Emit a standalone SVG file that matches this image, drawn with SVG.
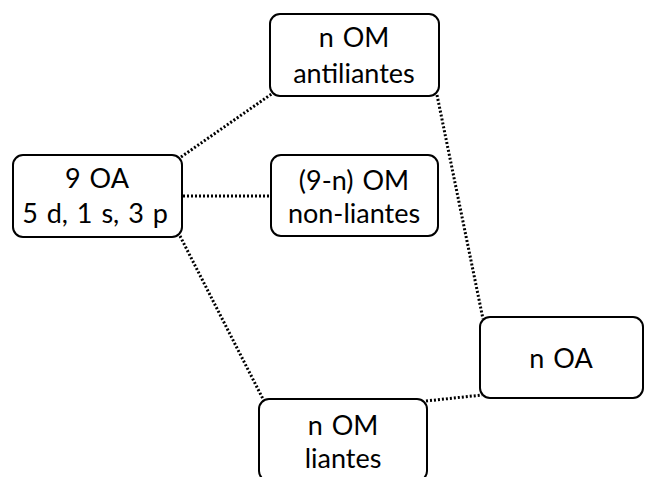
<svg xmlns="http://www.w3.org/2000/svg" width="645" height="477" viewBox="0 0 645 477">
<style>
.box{fill:#fff;stroke:#000;stroke-width:2}
.t{font-family:Lato,"Open Sans","DejaVu Sans",sans-serif;font-size:27px;text-anchor:middle;fill:#000;word-spacing:2px}
.c{stroke:#000;stroke-width:3;stroke-dasharray:2 2;fill:none}
</style>
<rect width="645" height="477" fill="#fff"/>
<g id="connectors">
<line class="c" x1="181" y1="157" x2="273" y2="93"/>
<line class="c" x1="183" y1="196" x2="270" y2="196"/>
<line class="c" x1="180" y1="236" x2="264" y2="401"/>
<line class="c" x1="437" y1="95" x2="483" y2="319"/>
<line class="c" x1="426" y1="401" x2="482" y2="395"/>
</g>
<g id="n1"><rect class="box" x="13" y="155" width="169" height="82" rx="10"/>
<text class="t" x="97" y="188">9 OA</text><text class="t" x="95" y="223">5 d, 1 s, 3 p</text></g>
<g id="n2"><rect class="box" x="270" y="14" width="169" height="82" rx="10"/>
<text class="t" x="354" y="47">n OM</text><text class="t" x="354" y="83">antiliantes</text></g>
<g id="n3"><rect class="box" x="271" y="155" width="167" height="81" rx="10"/>
<text class="t" x="354" y="190">(9-n) OM</text><text class="t" x="354" y="223">non-liantes</text></g>
<g id="n4"><rect class="box" x="480" y="317" width="163" height="81" rx="10"/>
<text class="t" x="561" y="368">n OA</text></g>
<g id="n5"><rect class="box" x="259" y="399" width="168" height="82" rx="10"/>
<text class="t" x="343" y="435">n OM</text><text class="t" x="343" y="468">liantes</text></g>
</svg>
